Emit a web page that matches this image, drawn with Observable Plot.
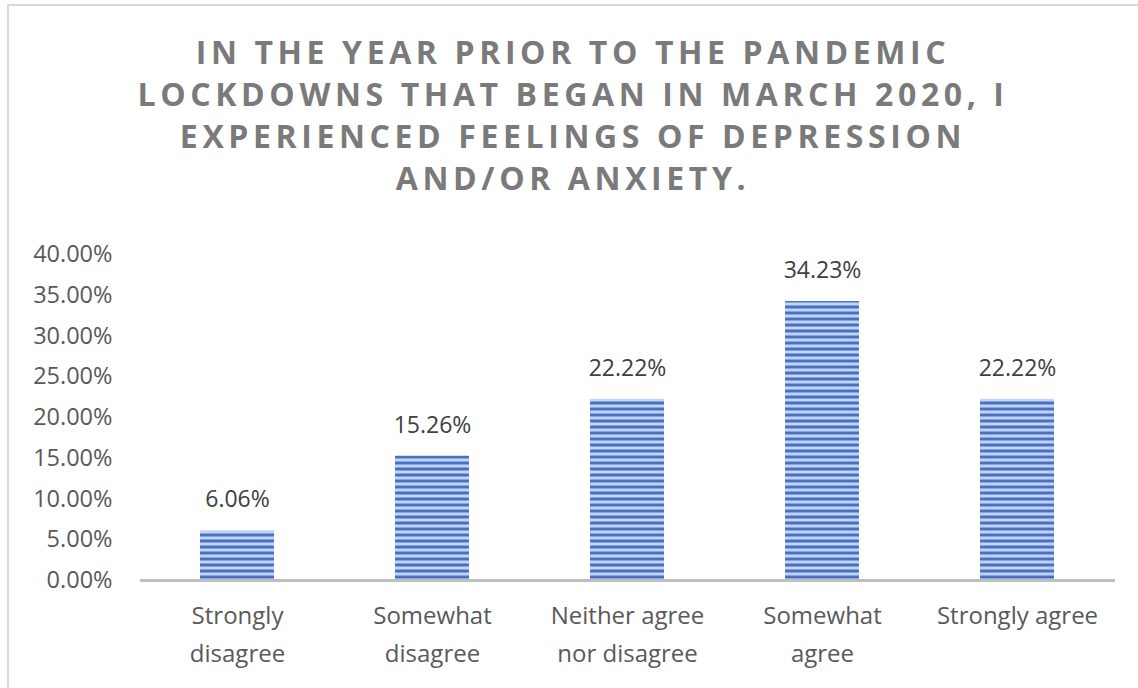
<!DOCTYPE html>
<html>
<head>
<meta charset="utf-8">
<script src="https://cdn.jsdelivr.net/npm/d3@7"></script>
<script src="https://cdn.jsdelivr.net/npm/@observablehq/plot@0.6"></script>
<style>
  html, body { margin: 0; padding: 0; background: #fff; }
  #wrap { position: relative; width: 1138px; height: 688px; overflow: hidden; }
  #frame {
    position: absolute; left: 7px; top: 4px; right: -4px; bottom: -4px;
    border-top: 2px solid #d9d9d9; border-left: 2px solid #d9d9d9;
  }
  #title {
    position: absolute; left: 4px; top: 31px; width: 1138px;
    text-align: center; font-family: "Open Sans", sans-serif; font-weight: 700;
    font-size: 32px; line-height: 42px; letter-spacing: 4.6px; color: #7a7a7a;
  }
  #chart { position: absolute; left: 0; top: 0; }
</style>
</head>
<body>
<div id="wrap">
  <div id="frame"></div>
  <div id="title">IN THE YEAR PRIOR TO THE PANDEMIC<br>LOCKDOWNS THAT BEGAN IN MARCH 2020, I<br>EXPERIENCED FEELINGS OF DEPRESSION<br>AND/OR ANXIETY.</div>
  <div id="chart"></div>
</div>
<script>
// Survey responses
const categories = ["Strongly disagree", "Somewhat disagree", "Neither agree nor disagree", "Somewhat agree", "Strongly agree"];
const shares = [0.0606, 0.1526, 0.2222, 0.3423, 0.2222];
const axisLabels = ["Strongly\ndisagree", "Somewhat\ndisagree", "Neither agree\nnor disagree", "Somewhat\nagree", "Strongly agree"];
const yTicks = [0, 0.05, 0.10, 0.15, 0.20, 0.25, 0.30, 0.35, 0.40];

const rows = categories.map((c, i) => ({category: c, share: shares[i], label: axisLabels[i]}));
const pct = d3.format(".2%");

// Horizontal stripe fill for the bars
const stripeDefs = () => {
  const defs = d3.create("svg:defs");
  const p = defs.append("pattern")
    .attr("id", "stripes")
    .attr("patternUnits", "userSpaceOnUse")
    .attr("width", 8).attr("height", 6);
  p.append("rect").attr("width", 8).attr("height", 6).attr("fill", "#4a70c2");
  p.append("rect").attr("y", 2).attr("width", 8).attr("height", 1).attr("fill", "#86a5e0");
  p.append("rect").attr("y", 3).attr("width", 8).attr("height", 2).attr("fill", "#c3d4f3");
  p.append("rect").attr("y", 5).attr("width", 8).attr("height", 1).attr("fill", "#86a5e0");
  return defs.node();
};

const chart = Plot.plot({
  width: 1138,
  height: 688,
  marginLeft: 140,
  marginRight: 23,
  marginTop: 254,
  marginBottom: 108,
  style: {fontFamily: "'Open Sans', sans-serif", background: "transparent", color: "#595959"},
  x: {domain: categories, paddingInner: 0.62, paddingOuter: 0.31},
  y: {domain: [0, 0.4]},
  marks: [
    stripeDefs,
    Plot.axisY({ticks: yTicks, tickFormat: pct, tickSize: 0, tickPadding: 28, fontSize: 23.5, label: null, fill: "#595959"}),
    Plot.barY(rows, {x: "category", y: "share", fill: "url(#stripes)"}),
    Plot.ruleY([0], {stroke: "#bfbfbf", strokeWidth: 3}),
    Plot.text(rows, {x: "category", y: "share", text: d => pct(d.share), dy: -31, fontSize: 23, fill: "#404040"}),
    Plot.text(rows, {x: "category", y: 0, text: "label", dy: 16, lineAnchor: "top", lineHeight: 1.6, fontSize: 24, fill: "#595959"}),
    Plot.axisX({ticks: [], label: null})
  ]
});
document.getElementById("chart").appendChild(chart);
</script>
</body>
</html>
